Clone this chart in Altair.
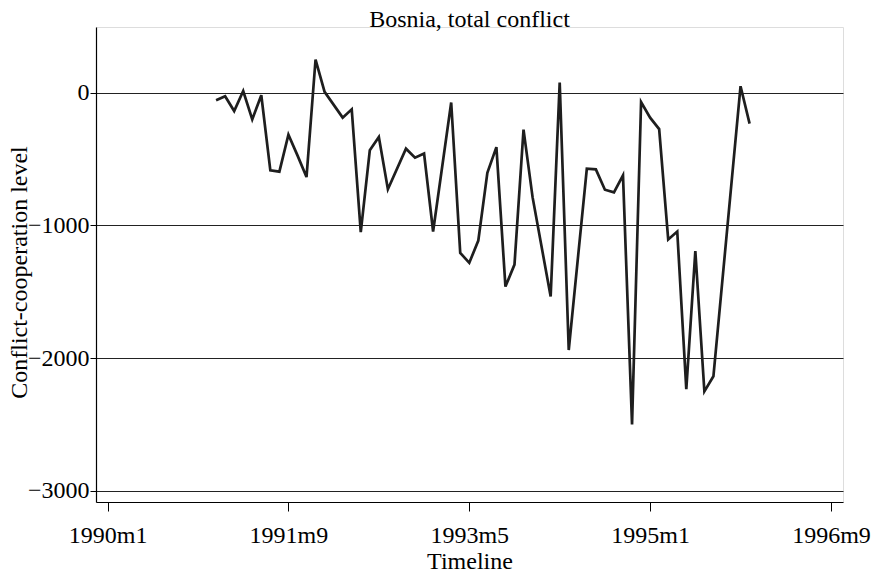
import altair as alt
import pandas as pd

# Month labels (Stata %tm style) and conflict-cooperation values
months = [
    "1991m1", "1991m2", "1991m3", "1991m4", "1991m5", "1991m6", "1991m7", "1991m8",
    "1991m9", "1991m10", "1991m11", "1991m12", "1992m1", "1992m3", "1992m4", "1992m5",
    "1992m6", "1992m7", "1992m8", "1992m10", "1992m11", "1992m12", "1993m1", "1993m3",
    "1993m4", "1993m5", "1993m6", "1993m7", "1993m8", "1993m9", "1993m10", "1993m11",
    "1993m12", "1994m2", "1994m3", "1994m4", "1994m6", "1994m7", "1994m8", "1994m9",
    "1994m10", "1994m11", "1994m12", "1995m1", "1995m2", "1995m3", "1995m4", "1995m5",
    "1995m6", "1995m7", "1995m8", "1995m11", "1995m12",
]
values = [
    -58, -28, -139, 12, -202, -20, -586, -596,
    -317, -473, -637, 249, 5, -189, -126, -1052,
    -435, -335, -728, -423, -491, -460, -1047, -75,
    -1208, -1283, -1115, -604, -411, -1462, -1296, -279,
    -788, -1537, 75, -1940, -574, -579, -732, -752,
    -624, -2500, -71, -189, -275, -1107, -1047, -2235,
    -1195, -2252, -2138, 48, -234,
]

x_ticks = [0, 20, 40, 60, 80]          # 1990m1, 1991m9, 1993m5, 1995m1, 1996m9
y_ticks = [0, -1000, -2000, -3000]
chart_title = ["Bosnia, total conflict"]


def month_index(s):
    y, m = s.split("m")
    return (int(y) - 1990) * 12 + int(m) - 1


df = pd.DataFrame({"label": months, "value": values})
df["t"] = df["label"].map(month_index)

FONT = "'Liberation Serif', 'Times New Roman', Times, serif"
FS = 24
W, H = 747, 475

line = (
    alt.Chart(df)
    .mark_line(color="#1e1e1e", strokeWidth=2.7, strokeJoin="miter")
    .encode(
        x=alt.X(
            "t:Q",
            scale=alt.Scale(domain=[-1.28, 81.33], nice=False, zero=False),
            axis=alt.Axis(
                title="Timeline",
                values=x_ticks,
                labelExpr="(floor(datum.value/12)+1990) + 'm' + (datum.value%12+1)",
                grid=False,
                tickSize=9,
                tickColor="#000000",
                tickWidth=1,
                domainColor="#000000",
                domainWidth=1.2,
                labelFont=FONT,
                labelFontSize=FS,
                labelColor="#000000",
                labelPadding=12,
                labelOverlap=False,
                labelFlush=False,
                titleFont=FONT,
                titleFontSize=FS,
                titleFontWeight="normal",
                titleColor="#000000",
                titlePadding=2,
            ),
        ),
        y=alt.Y(
            "value:Q",
            scale=alt.Scale(domain=[-3085, 494], nice=False, zero=False),
            axis=alt.Axis(
                title="Conflict-cooperation level",
                values=y_ticks,
                format="d",
                grid=True,
                gridColor="#222222",
                gridWidth=1.2,
                tickSize=6,
                tickColor="#000000",
                tickWidth=1,
                domainColor="#000000",
                domainWidth=1.2,
                labelFont=FONT,
                labelFontSize=FS,
                labelColor="#000000",
                labelPadding=1,
                labelOverlap=False,
                titleFont=FONT,
                titleFontSize=FS,
                titleFontWeight="normal",
                titleColor="#000000",
                titleBaseline="alphabetic",
                titleAngle=270,
                titleX=-70,
                titleY=245,
            ),
        ),
    )
)

title = (
    alt.Chart(pd.DataFrame({"title": chart_title}))
    .mark_text(
        font=FONT,
        fontSize=FS,
        color="#000000",
        align="center",
        baseline="alphabetic",
    )
    .encode(text="title:N", x=alt.value(W / 2), y=alt.value(0))
)

chart = (
    alt.layer(line, title)
    .properties(
        width=W,
        height=H,
        autosize=alt.AutoSizeParams(type="none"),
        padding={"left": 88, "top": 19, "right": 28, "bottom": 69},
    )
    .configure_view(stroke=None)
    .configure(background="white")
)

chart.save("out.html", embed_options={"renderer": "svg", "actions": False})
